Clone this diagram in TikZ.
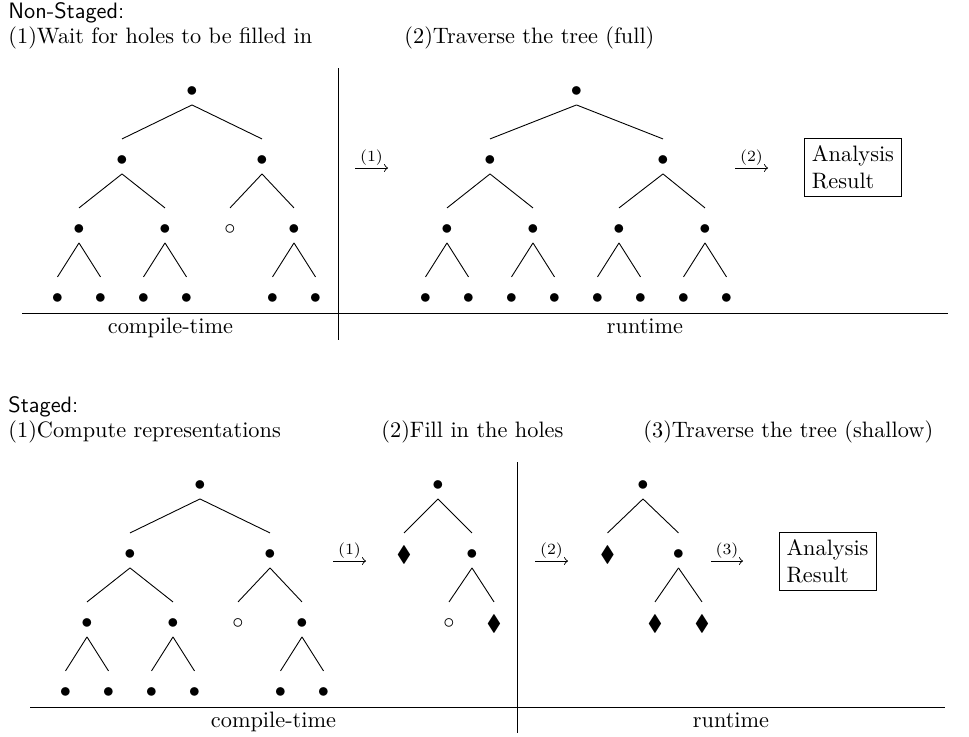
\documentclass[tikz,border=0pt]{standalone}
\usepackage{amsmath, amssymb}
\usepackage{mathtools}
\usepackage{tikz}

\begin{document}
\begin{tikzpicture}[x=0.4484pt,y=-0.4484pt,
		every node/.style={inner sep=0pt},
		head/.style={anchor=base west},
		lbl/.style={anchor=base},
		step label/.style={above=0.8pt,font=\scriptsize},
		res/.style={draw,inner sep=3.33pt,align=left}]
		\useasboundingbox (0,0) rectangle (969,736);

		% Non-staged headings
		\node[head] (ns) at (8,18) {\textsf{Non-Staged:}};
		\node[head] (ns1) at (8,43) {(1)Wait for holes to be filled in};
		\node[head] (ns2) at (404,43) {(2)Traverse the tree (full)};

		% Compile-time tree, one hole left open
		\node (c) at (192,92) {$\bullet$};
		\node (c1) at (122,161) {$\bullet$};
		\node (c2) at (262,161) {$\bullet$};
		\node (c11) at (79,230) {$\bullet$};
		\node (c12) at (165,230) {$\bullet$};
		\node (c21) at (230,230) {$\circ$};
		\node (c22) at (294,230) {$\bullet$};
		\foreach \n/\x in {c111/57.5,c112/100.5,c121/143.5,c122/186.5,c221/272.5,c222/315.5} {
			\node (\n) at (\x,299) {$\bullet$};
		}
		\foreach \p/\q in {c/c1,c/c2,c1/c11,c1/c12,c2/c21,c2/c22,
				c11/c111,c11/c112,c12/c121,c12/c122,c22/c221,c22/c222} {
			\draw ([yshift=-5.8pt]\p.center) -- ([yshift=9.9pt]\q.center);
		}

		% Runtime tree (full)
		\node (f) at (576.5,92) {$\bullet$};
		\node (f1) at (490,161) {$\bullet$};
		\node (f2) at (663,161) {$\bullet$};
		\foreach \n/\x in {f11/447,f12/533,f21/619,f22/705} {
			\node (\n) at (\x,230) {$\bullet$};
		}
		\foreach \n/\x in {f111/425.5,f112/468.5,f121/511.5,f122/554.5,
				f211/597.5,f212/640.5,f221/683.5,f222/726.5} {
			\node (\n) at (\x,299) {$\bullet$};
		}
		\foreach \p/\q in {f/f1,f/f2,f1/f11,f1/f12,f2/f21,f2/f22,
				f11/f111,f11/f112,f12/f121,f12/f122,f21/f211,f21/f212,f22/f221,f22/f222} {
			\draw ([yshift=-5.8pt]\p.center) -- ([yshift=9.9pt]\q.center);
		}

		% Steps and result
		\coordinate (a1s) at (355,168);
		\coordinate (a1e) at (388,168);
		\coordinate (a2s) at (735,168);
		\coordinate (a2e) at (768,168);
		\draw[->] (a1s) -- node[step label] (la1) {(1)} (a1e);
		\draw[->] (a2s) -- node[step label] (la2) {(2)} (a2e);
		\node[res] (res1) at (853,167.5) {Analysis\\Result};

		% Time split
		\draw (338,68) -- (338,340);
		\draw (22,313) -- (948,313);
		\node[lbl] (ct1) at (170.5,333) {compile-time};
		\node[lbl] (rt1) at (645,333) {runtime};

		% Staged headings
		\node[head] (st) at (8,412) {\textsf{Staged:}};
		\node[head] (st1) at (8,437) {(1)Compute representations};
		\node[head] (st2) at (381,437) {(2)Fill in the holes};
		\node[head] (st3) at (643,437) {(3)Traverse the tree (shallow)};

		% Compile-time tree
		\node (s) at (200,486) {$\bullet$};
		\node (s1) at (130,555) {$\bullet$};
		\node (s2) at (270,555) {$\bullet$};
		\node (s11) at (87,624) {$\bullet$};
		\node (s12) at (173,624) {$\bullet$};
		\node (s21) at (238,624) {$\circ$};
		\node (s22) at (302,624) {$\bullet$};
		\foreach \n/\x in {s111/65.5,s112/108.5,s121/151.5,s122/194.5,s221/280.5,s222/323.5} {
			\node (\n) at (\x,693) {$\bullet$};
		}
		\foreach \p/\q in {s/s1,s/s2,s1/s11,s1/s12,s2/s21,s2/s22,
				s11/s111,s11/s112,s12/s121,s12/s122,s22/s221,s22/s222} {
			\draw ([yshift=-5.8pt]\p.center) -- ([yshift=9.9pt]\q.center);
		}

		% Representations with holes
		\node (h) at (438,486) {$\bullet$};
		\node (h1) at (404,555) {$\blacklozenge$};
		\node (h2) at (472,555) {$\bullet$};
		\node (h21) at (449,624) {$\circ$};
		\node (h22) at (494,624) {$\blacklozenge$};

		% Holes filled in
		\node (w) at (643,486) {$\bullet$};
		\node (w1) at (607.5,555) {$\blacklozenge$};
		\node (w2) at (678.5,555) {$\bullet$};
		\node (w21) at (655,624) {$\blacklozenge$};
		\node (w22) at (702,624) {$\blacklozenge$};
		\foreach \p/\q in {h/h1,h/h2,h2/h21,h2/h22,w/w1,w/w2,w2/w21,w2/w22} {
			\draw ([yshift=-5.8pt]\p.center) -- ([yshift=9.9pt]\q.center);
		}

		% Steps and result
		\coordinate (b1s) at (333,561);
		\coordinate (b1e) at (366,561);
		\coordinate (b2s) at (535,561);
		\coordinate (b2e) at (568,561);
		\coordinate (b3s) at (711,561);
		\coordinate (b3e) at (743,561);
		\draw[->] (b1s) -- node[step label] (lb1) {(1)} (b1e);
		\draw[->] (b2s) -- node[step label] (lb2) {(2)} (b2e);
		\draw[->] (b3s) -- node[step label] (lb3) {(3)} (b3e);
		\node[res] (res2) at (827.5,561) {Analysis\\Result};

		% Time split
		\draw (517,462) -- (517,733);
		\draw (30,707) -- (945,707);
		\node[lbl] (ct2) at (273.5,727) {compile-time};
		\node[lbl] (rt2) at (731,727) {runtime};
	\end{tikzpicture}
\end{document}
